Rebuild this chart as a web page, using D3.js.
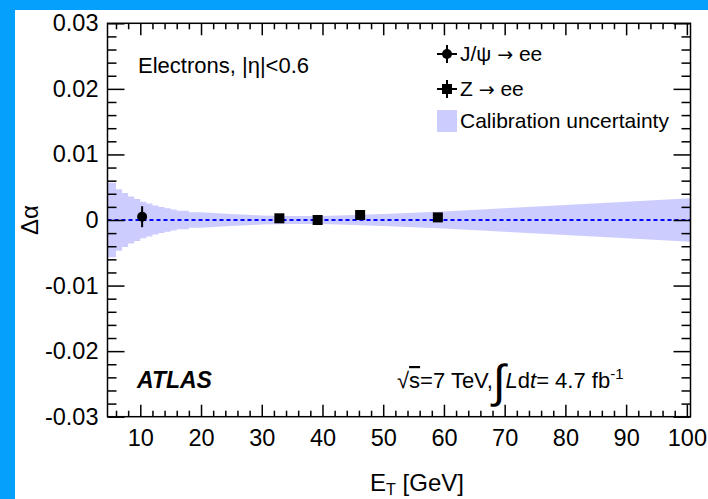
<!DOCTYPE html>
<html>
<head>
<meta charset="utf-8">
<script src="https://cdn.jsdelivr.net/npm/d3@7"></script>
<style>
  body { margin: 0; background: #03a1fc; }
  svg { display: block; }
  text { font-family: "Liberation Sans", Arial, Helvetica, sans-serif; fill: #000; }
</style>
</head>
<body>
<div id="chart"></div>
<script>
// J/psi -> ee point
const jpsiEt = [10.3];
const jpsiVal = [0.0005];
const jpsiErr = [0.0016];

// Z -> ee points
const zEt = [32.9, 39.2, 46.2, 59.0];
const zVal = [0.00026, 0.0, 0.00076, 0.0004];
const zErr = [0.0003, 0.0003, 0.0003, 0.0003];

// calibration uncertainty band (half width), stepped part at low ET
const bandStepEdges = [4.6, 6, 7, 8, 9, 10, 11, 12, 13, 14, 15, 16, 18, 20];
const bandStepHalf = [0.0057, 0.0047, 0.0041, 0.0036, 0.0032, 0.0028, 0.0025, 0.0022, 0.002, 0.0018, 0.0016, 0.0014, 0.0012];
// smooth part at higher ET
const bandEt = [20, 25, 30, 35, 40, 50, 60, 70, 80, 90, 100.6];
const bandHalf = [0.0012, 0.0009, 0.0007, 0.0006, 0.0006, 0.0009, 0.0013, 0.0018, 0.0023, 0.0028, 0.0033];

const xTicks = [10, 20, 30, 40, 50, 60, 70, 80, 90, 100];
const yTicks = [-0.03, -0.02, -0.01, 0, 0.01, 0.02, 0.03];

const W = 708, H = 499;
const svg = d3.select('#chart').append('svg')
    .attr('width', W)
    .attr('height', H);

// white page inside the blue border (top + left only)
svg.append('rect')
    .attr('x', 15).attr('y', 10)
    .attr('width', W - 15).attr('height', H - 10)
    .attr('fill', '#fff');

const x = d3.scaleLinear().domain([4.6, 100.6]).range([107.5, 690.5]);
const y = d3.scaleLinear().domain([-0.03, 0.03]).range([416.7, 23.3]);

// band
const bandPts = [];
bandStepHalf.forEach((h, i) => {
    bandPts.push({et: bandStepEdges[i], h: h});
    bandPts.push({et: bandStepEdges[i + 1], h: h});
});
bandEt.forEach((e, i) => bandPts.push({et: e, h: bandHalf[i]}));

const area = d3.area()
    .x(d => x(d.et))
    .y0(d => y(-d.h))
    .y1(d => y(d.h));

svg.append('path')
    .datum(bandPts)
    .attr('fill', '#ccccff')
    .attr('d', area);

// zero line
svg.append('line')
    .attr('x1', x.range()[0]).attr('x2', x.range()[1])
    .attr('y1', y(0)).attr('y2', y(0))
    .attr('stroke', '#0000ff')
    .attr('stroke-width', 2)
    .attr('stroke-dasharray', '4,3');

// axes (ROOT style: inward ticks on all sides)
const xMinor = d3.range(6, 101, 2).filter(v => v % 10 !== 0);
const yMinor = d3.range(-30, 31, 2).filter(v => v % 10 !== 0).map(v => v / 1000);
const yFmt = d => d === 0 ? '0' : d.toFixed(2);

function styleAxis(g) {
    g.select('.domain').remove();
    g.selectAll('line').attr('stroke', '#000').attr('stroke-width', 1.5);
    g.selectAll('text').attr('font-size', 23.5).attr('font-family', '"Liberation Sans", Arial, sans-serif');
}

svg.append('g')
    .attr('transform', `translate(0,${y.range()[0]})`)
    .call(d3.axisBottom(x).tickValues(xTicks).tickSize(-12).tickPadding(13))
    .call(styleAxis);
svg.append('g')
    .attr('transform', `translate(0,${y.range()[0]})`)
    .call(d3.axisBottom(x).tickValues(xMinor).tickSize(-6).tickFormat(''))
    .call(styleAxis);
svg.append('g')
    .attr('transform', `translate(0,${y.range()[1]})`)
    .call(d3.axisTop(x).tickValues(xTicks).tickSize(-12).tickFormat(''))
    .call(styleAxis);
svg.append('g')
    .attr('transform', `translate(0,${y.range()[1]})`)
    .call(d3.axisTop(x).tickValues(xMinor).tickSize(-6).tickFormat(''))
    .call(styleAxis);

svg.append('g')
    .attr('transform', `translate(${x.range()[0]},0)`)
    .call(d3.axisLeft(y).tickValues(yTicks).tickSize(-17).tickPadding(9).tickFormat(yFmt))
    .call(styleAxis);
svg.append('g')
    .attr('transform', `translate(${x.range()[0]},0)`)
    .call(d3.axisLeft(y).tickValues(yMinor).tickSize(-9).tickFormat(''))
    .call(styleAxis);
svg.append('g')
    .attr('transform', `translate(${x.range()[1]},0)`)
    .call(d3.axisRight(y).tickValues(yTicks).tickSize(-17).tickFormat(''))
    .call(styleAxis);
svg.append('g')
    .attr('transform', `translate(${x.range()[1]},0)`)
    .call(d3.axisRight(y).tickValues(yMinor).tickSize(-9).tickFormat(''))
    .call(styleAxis);

// frame
svg.append('rect')
    .attr('x', x.range()[0]).attr('y', y.range()[1])
    .attr('width', x.range()[1] - x.range()[0])
    .attr('height', y.range()[0] - y.range()[1])
    .attr('fill', 'none')
    .attr('stroke', '#000')
    .attr('stroke-width', 1.5);

// J/psi point
jpsiEt.forEach((e, i) => {
    svg.append('line')
        .attr('x1', x(e)).attr('x2', x(e))
        .attr('y1', y(jpsiVal[i] + jpsiErr[i])).attr('y2', y(jpsiVal[i] - jpsiErr[i]))
        .attr('stroke', '#000').attr('stroke-width', 2);
    svg.append('circle')
        .attr('cx', x(e)).attr('cy', y(jpsiVal[i]))
        .attr('r', 5).attr('fill', '#000');
});

// Z points
zEt.forEach((e, i) => {
    svg.append('line')
        .attr('x1', x(e)).attr('x2', x(e))
        .attr('y1', y(zVal[i] + zErr[i])).attr('y2', y(zVal[i] - zErr[i]))
        .attr('stroke', '#000').attr('stroke-width', 2);
    svg.append('rect')
        .attr('x', x(e) - 5).attr('y', y(zVal[i]) - 5)
        .attr('width', 10).attr('height', 10)
        .attr('fill', '#000');
});

// legend
const leg = svg.append('g');
function arrowLabel(xx, yy, before) {
    const el = leg.append('text').attr('x', xx).attr('y', yy).attr('font-size', 21);
    el.append('tspan').text(before + ' ');
    el.append('tspan').attr('font-family', '"DejaVu Sans", sans-serif').attr('font-size', 19).text('→');
    el.append('tspan').text(' ee');
}
leg.append('line').attr('x1', 437).attr('x2', 457).attr('y1', 54).attr('y2', 54).attr('stroke', '#000').attr('stroke-width', 2);
leg.append('line').attr('x1', 447).attr('x2', 447).attr('y1', 45).attr('y2', 63).attr('stroke', '#000').attr('stroke-width', 2);
leg.append('circle').attr('cx', 447).attr('cy', 54).attr('r', 5).attr('fill', '#000');
arrowLabel(460, 61, 'J/ψ');

leg.append('line').attr('x1', 437).attr('x2', 457).attr('y1', 89).attr('y2', 89).attr('stroke', '#000').attr('stroke-width', 2);
leg.append('line').attr('x1', 447).attr('x2', 447).attr('y1', 80).attr('y2', 98).attr('stroke', '#000').attr('stroke-width', 2);
leg.append('rect').attr('x', 442).attr('y', 84).attr('width', 10).attr('height', 10).attr('fill', '#000');
arrowLabel(460, 96, 'Z');

leg.append('rect').attr('x', 437).attr('y', 110).attr('width', 20).attr('height', 22).attr('fill', '#ccccff');
leg.append('text').attr('x', 460).attr('y', 128).attr('font-size', 21).text('Calibration uncertainty');

// annotations
svg.append('text').attr('x', 138).attr('y', 73).attr('font-size', 22).text('Electrons, |η|<0.6');
svg.append('text').attr('x', 137).attr('y', 388).attr('font-size', 23)
    .attr('font-weight', 'bold').attr('font-style', 'italic').text('ATLAS');

const lum = svg.append('text').attr('x', 397).attr('y', 388).attr('font-size', 22);
lum.append('tspan').text('√');
lum.append('tspan').attr('text-decoration', 'overline').text('s');
lum.append('tspan').text('=7 TeV,');
lum.append('tspan').attr('font-size', 46).attr('dy', 9).text('∫');
lum.append('tspan').attr('dy', -9).attr('font-style', 'italic').text('L');
lum.append('tspan').text('d');
lum.append('tspan').attr('font-style', 'italic').text('t');
lum.append('tspan').text('= 4.7 fb');
lum.append('tspan').attr('font-size', 15).attr('dy', -9).text('-1');

// axis titles
const xt = svg.append('text').attr('x', 417).attr('y', 491).attr('font-size', 24).attr('text-anchor', 'middle');
xt.append('tspan').text('E');
xt.append('tspan').attr('font-size', 16).attr('dy', 4).text('T');
xt.append('tspan').attr('dy', -4).text(' [GeV]');

svg.append('text')
    .attr('transform', `translate(38,${y(0)}) rotate(-90)`)
    .attr('text-anchor', 'middle')
    .attr('font-size', 24)
    .text('Δα');
</script>
</body>
</html>
